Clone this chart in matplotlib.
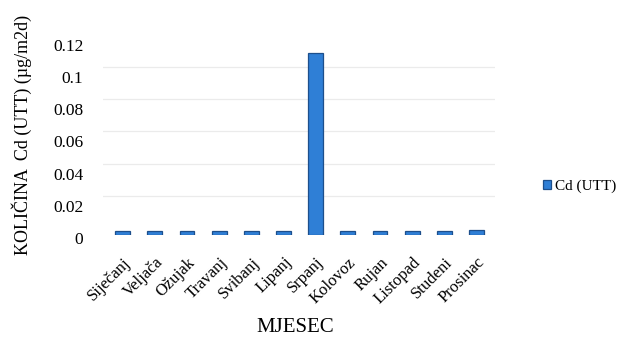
import matplotlib.pyplot as plt
import matplotlib.transforms as mtransforms
import numpy as np

plt.rcParams['font.family'] = ['Liberation Serif', 'DejaVu Serif']

mjeseci = ['Siječanj', 'Veljača', 'Ožujak', 'Travanj', 'Svibanj', 'Lipanj',
           'Srpanj', 'Kolovoz', 'Rujan', 'Listopad', 'Studeni', 'Prosinac']
cd_utt = [0.0022, 0.0022, 0.0022, 0.0023, 0.0024, 0.0025,
          0.1132, 0.0026, 0.0026, 0.0027, 0.0027, 0.0028]

fig = plt.figure(figsize=(6.19, 3.40), dpi=100)
ax = fig.add_axes([0.166, 0.309, 0.633, 0.568])

x = np.arange(len(mjeseci))
ax.bar(x, cd_utt, width=0.46, color='#2f7fd6', edgecolor='#1d4f8c', linewidth=0.9,
       label='Cd (UTT)')

ax.set_ylim(0, 0.12)
ax.set_xlim(-0.62, 11.56)
ax.set_yticks([0, 0.02, 0.04, 0.06, 0.08, 0.1, 0.12])
ax.set_yticklabels(['0', '0.02', '0.04', '0.06', '0.08', '0.1', '0.12'], fontsize=12.5)
ax.set_xticks(x)
ax.set_xticklabels(mjeseci, rotation=45, ha='right', rotation_mode='anchor', fontsize=12)
ax.tick_params(axis='x', pad=14, length=0)
ax.tick_params(axis='y', pad=14, length=0)

down = mtransforms.ScaledTranslation(0, -3 / 100, fig.dpi_scale_trans)
for lbl in ax.get_yticklabels():
    lbl.set_transform(lbl.get_transform() + down)

# gridlines sit on the back wall (3D look), a bit above the tick labels
ax.grid(axis='y', color='#ebebeb', linewidth=0.9)
ax.set_axisbelow(True)
shift = mtransforms.ScaledTranslation(0, 7 / 100, fig.dpi_scale_trans)
for i, gl in enumerate(ax.get_ygridlines()):
    gl.set_transform(gl.get_transform() + shift)
    if i == 0:
        gl.set_visible(False)
for s in ax.spines.values():
    s.set_visible(False)

ax.set_ylabel('KOLIČINA  Cd (UTT) (µg/m2d)', fontsize=13)
ax.yaxis.set_label_coords(-0.18, 0.52)
ax.set_xlabel('MJESEC', fontsize=15)
ax.xaxis.set_label_coords(0.49, -0.43)

ax.legend(loc='center left', bbox_to_anchor=(1.123, 0.25), frameon=False,
          borderaxespad=0, borderpad=0,
          fontsize=11, handlelength=0.55, handleheight=0.55, handletextpad=0.25)

fig.savefig('out.png', dpi=100)
